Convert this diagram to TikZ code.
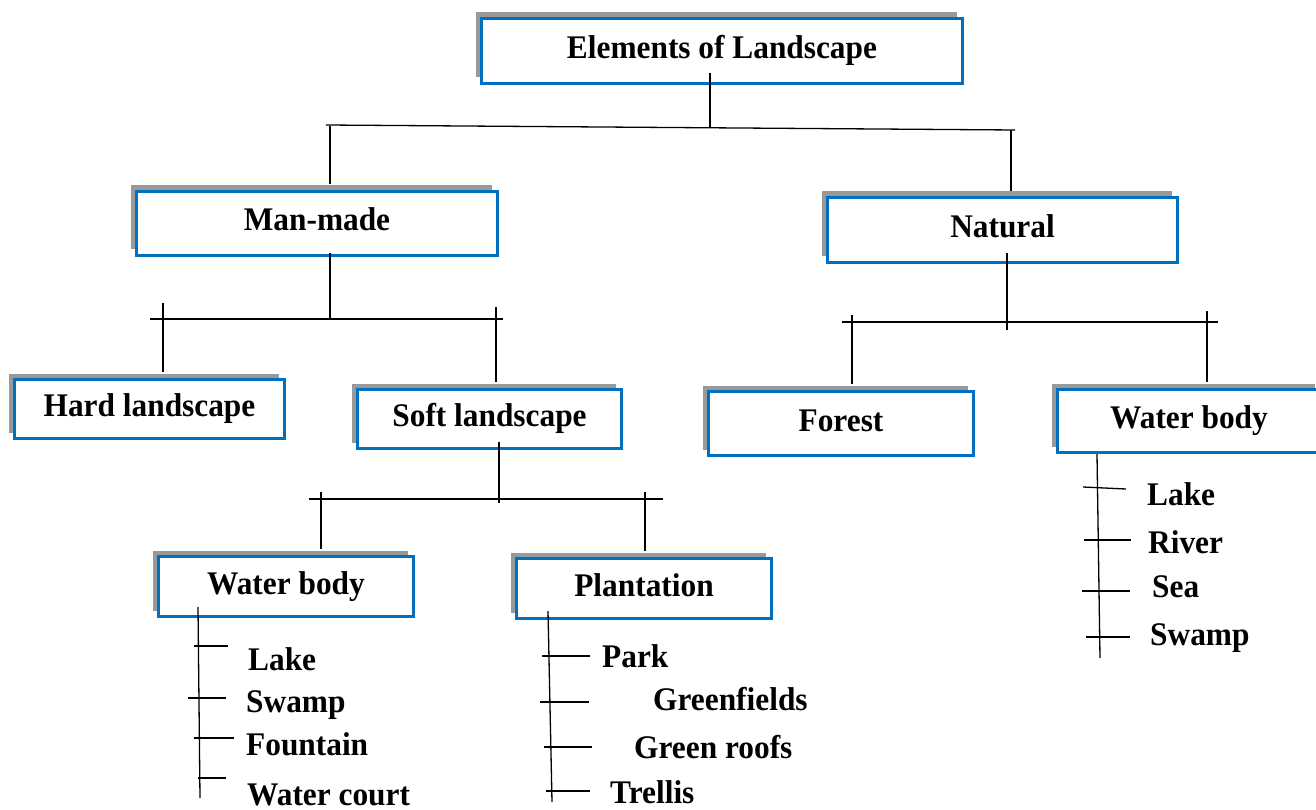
\documentclass[tikz,border=0pt]{standalone}
\usepackage{fontspec}
\setmainfont{Liberation Serif}[FakeStretch=0.95]
\usetikzlibrary{shadows,calc}
\definecolor{boxblue}{HTML}{0070C0}
\definecolor{shadowgray}{HTML}{999999}
\begin{document}
\begin{tikzpicture}[x=1pt,y=-1pt,
  box/.style={draw=boxblue, line width=3pt, fill=white, inner sep=0pt,
    text height=22pt, text depth=7pt,
    font=\fontsize{33}{38}\selectfont\bfseries,
    general shadow={fill=shadowgray, shadow xshift=-6pt, shadow yshift=6pt}},
  conn/.style={line width=1.3pt, black},
  item/.style={anchor=base west, inner sep=0pt, font=\fontsize{33}{38}\selectfont\bfseries}]
\path[use as bounding box, fill=white] (0,0) rectangle (1316,810);
\clip (0,0) rectangle (1316,810);

% boxes
\node[box, minimum width=481pt, minimum height=65pt] (top) at (722,51) {Elements of Landscape};
\node[box, minimum width=361pt, minimum height=64pt] (man) at (317,223.5) {Man-made};
\node[box, minimum width=350pt, minimum height=65pt] (nat) at (1002.5,230) {Natural};
\node[box, minimum width=270pt, minimum height=59pt] (hard) at (149.5,409) {Hard landscape};
\node[box, minimum width=264pt, minimum height=59pt] (soft) at (489.5,419) {Soft landscape};
\node[box, minimum width=265pt, minimum height=64pt] (forest) at (841,423.5) {Forest};
\node[box, minimum width=263pt, minimum height=63pt] (wbr) at (1189,421) {Water body};
\node[box, minimum width=255pt, minimum height=60pt] (wbl) at (286,586.5) {Water body};
\node[box, minimum width=255pt, minimum height=60pt] (plant) at (644,588.5) {Plantation};

% list items
\node[item] (l1) at (248,670) {Lake};
\node[item] (l2) at (246,712) {Swamp};
\node[item] (l3) at (246,755) {Fountain};
\node[item] (l4) at (247,805) {Water court};
\node[item] (p1) at (602,667) {Park};
\node[item] (p2) at (653,710) {Greenfields};
\node[item] (p3) at (634,758) {Green roofs};
\node[item] (p4) at (610,803) {Trellis};
\node[item] (r1) at (1147,505) {Lake};
\node[item] (r2) at (1148,553) {River};
\node[item] (r3) at (1152,597) {Sea};
\node[item] (r4) at (1150,645) {Swamp};

% junction coordinates
\coordinate (t0) at (710,73);  \coordinate (j0) at (710,128);
\coordinate (b0l) at (326,125); \coordinate (b0r) at (1015,130);
\coordinate (jm) at (330,126);  \coordinate (jn) at (1011,130);

\coordinate (m0) at (330,253);  \coordinate (m1) at (330,319);
\coordinate (b1l) at (150,319); \coordinate (b1r) at (503,319);
\coordinate (th) at (163,303);  \coordinate (ts) at (496,307);

\coordinate (n0) at (1007,253); \coordinate (n1) at (1007,330);
\coordinate (b2l) at (842,322); \coordinate (b2r) at (1218,322);
\coordinate (tf) at (852,315);  \coordinate (tw) at (1207,311);

\coordinate (s0) at (499,442);  \coordinate (s1) at (499,503);
\coordinate (b3l) at (309,499); \coordinate (b3r) at (663,499);
\coordinate (twl) at (321,492); \coordinate (tp) at (645,492);

% connectors: level 0
\draw[conn] (t0) -- (j0);
\draw[conn] (b0l) -- (b0r);
\draw[conn] (jm) -- ($(man.north -| jm)+(0,-6)$);
\draw[conn] (jn) -- ($(nat.north -| jn)+(0,-5)$);
% level 1 man-made
\draw[conn] (m0) -- (m1);
\draw[conn] (b1l) -- (b1r);
\draw[conn] (th) -- ($(hard.north -| th)+(0,-6)$);
\draw[conn] (ts) -- ($(soft.north -| ts)+(0,-6)$);
% level 1 natural
\draw[conn] (n0) -- (n1);
\draw[conn] (b2l) -- (b2r);
\draw[conn] (tf) -- ($(forest.north -| tf)+(0,-6)$);
\draw[conn] (tw) -- ($(wbr.north -| tw)+(0,-6)$);
% level 2 soft
\draw[conn] (s0) -- (s1);
\draw[conn] (b3l) -- (b3r);
\draw[conn] (twl) -- ($(wbl.north -| twl)+(0,-6)$);
\draw[conn] (tp) -- ($(plant.north -| tp)+(0,-6)$);

% list: water body (left)
\coordinate (la) at (198,607); \coordinate (lb) at (200,798);
\draw[conn] (la) -- (lb);
\draw[conn] (194,646) coordinate (lt1a) -- (228,646) coordinate (lt1b);
\draw[conn] (188,698) coordinate (lt2a) -- (226,698) coordinate (lt2b);
\draw[conn] (194,738) coordinate (lt3a) -- (234,738) coordinate (lt3b);
\draw[conn] (198,778) coordinate (lt4a) -- (226,778) coordinate (lt4b);

% list: plantation
\coordinate (pa) at (548,611); \coordinate (pb) at (552,802);
\draw[conn] (pa) -- (pb);
\draw[conn] (542,656) coordinate (pt1a) -- (590,656) coordinate (pt1b);
\draw[conn] (540,702) coordinate (pt2a) -- (589,702) coordinate (pt2b);
\draw[conn] (544,747) coordinate (pt3a) -- (592,747) coordinate (pt3b);
\draw[conn] (546,791) coordinate (pt4a) -- (590,791) coordinate (pt4b);

% list: water body (right)
\coordinate (ra) at (1097,454); \coordinate (rb) at (1100,658);
\draw[conn] (ra) -- (rb);
\draw[conn] (1083,487) coordinate (rt1a) -- (1126,489) coordinate (rt1b);
\draw[conn] (1084,540) coordinate (rt2a) -- (1131,540) coordinate (rt2b);
\draw[conn] (1082,591) coordinate (rt3a) -- (1130,591) coordinate (rt3b);
\draw[conn] (1086,637) coordinate (rt4a) -- (1130,637) coordinate (rt4b);
\end{tikzpicture}
\end{document}
